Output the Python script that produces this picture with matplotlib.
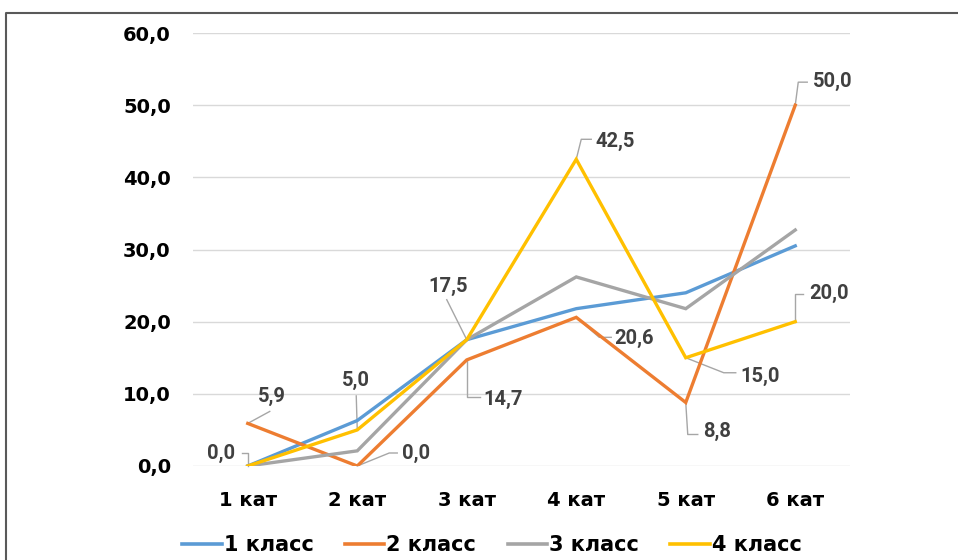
import matplotlib
matplotlib.use("Agg")
import matplotlib.pyplot as plt
import matplotlib.transforms as mtransforms
from matplotlib.lines import Line2D

# data
categories = ['1 кат', '2 кат', '3 кат', '4 кат', '5 кат', '6 кат']
class1 = [0.0, 6.3, 17.5, 21.8, 24.0, 30.5]
class2 = [5.9, 0.0, 14.7, 20.6, 8.8, 50.0]
class3 = [0.0, 2.1, 17.5, 26.2, 21.8, 32.7]
class4 = [0.0, 5.0, 17.5, 42.5, 15.0, 20.0]
series_names = ['1 класс', '2 класс', '3 класс', '4 класс']
colors = ['#5B9BD5', '#ED7D31', '#A5A5A5', '#FFC000']

# label offsets in pixels (text offset, leader polyline) per labelled point
labels2 = [
    ((24, 27), [(0, 0), (22, 12)]),
    ((59, 13), [(0, 0), (32, 13), (40, 13)]),
    ((36, -40), [(0, 0), (0, -37), (13, -37)]),
    ((58, -21), [(0, 0), (23, -20), (35, -20)]),
    ((31, -29), [(0, 0), (2, -32), (12, -32)]),
    ((38, 24), [(0, 0), (3, 23), (12, 23)]),
]
labels4 = [
    ((-27, 13), [(0, 0), (0, 13), (-6, 13)]),
    ((-1, 49), [(0, 0), (-1, 34)]),
    ((-19, 53), [(0, 0), (-20, 40)]),
    ((39, 18), [(0, 0), (5, 20), (15, 20)]),
    ((74, -19), [(0, 0), (38, -15), (50, -15)]),
    ((34, 28), [(0, 0), (0, 28), (8, 28)]),
]

fig = plt.figure(figsize=(9.58, 5.6), dpi=100)
ax = fig.add_axes([193 / 958, 1 - 466 / 560, 657 / 958, 433 / 560])

x = list(range(len(categories)))
for vals, name, c in zip([class1, class2, class3, class4], series_names, colors):
    ax.plot(x, vals, color=c, lw=2.4, label=name, solid_joinstyle='miter', zorder=3)

ax.set_xlim(-0.5, 5.5)
ax.set_ylim(0, 60)
ax.set_yticks(range(0, 61, 10))
ax.set_yticklabels([f'{v},0' for v in range(0, 61, 10)])
ax.set_xticks(x)
ax.set_xticklabels(categories)
ax.tick_params(length=0, labelsize=14)
ax.tick_params(axis='y', pad=16)
ax.tick_params(axis='x', pad=18)
for lab in ax.get_xticklabels() + ax.get_yticklabels():
    lab.set_fontweight('bold')
    lab.set_family('DejaVu Sans')
for s in ax.spines.values():
    s.set_visible(False)
ax.grid(axis='y', color='#D9D9D9', lw=1)
ax.set_axisbelow(True)

# data labels with leader lines
for vals, lbls in [(class2, labels2), (class4, labels4)]:
    for i, (v, (toff, leader)) in enumerate(zip(vals, lbls)):
        tr = mtransforms.IdentityTransform() + mtransforms.ScaledTranslation(i, v, ax.transData)
        ax.plot([p[0] for p in leader], [p[1] for p in leader], transform=tr,
                color='#A6A6A6', lw=1, zorder=2, clip_on=False)
        ax.annotate(f'{v:.1f}'.replace('.', ','), xy=(i, v), xytext=toff,
                    textcoords='offset pixels', ha='center', va='center',
                    fontsize=14.5, fontweight='bold', color='#404040',
                    family='Roboto', zorder=4, annotation_clip=False)

leg = fig.legend(loc='center', bbox_to_anchor=(492 / 958, 1 - 545 / 560), ncol=4,
                 frameon=False, handlelength=1.9, handletextpad=0.1, columnspacing=1.5,
                 prop={'family': 'DejaVu Sans', 'weight': 'bold', 'size': 15})
for h in leg.get_lines():
    h.set_linewidth(2.6)

# outer frame (only top and left visible in the crop)
fig.add_artist(Line2D([6 / 958, 6 / 958, 1.0], [0.0, 1 - 13 / 560, 1 - 13 / 560],
                      transform=fig.transFigure, color='#595959', lw=1.5))

fig.savefig('out.png', dpi=100)
